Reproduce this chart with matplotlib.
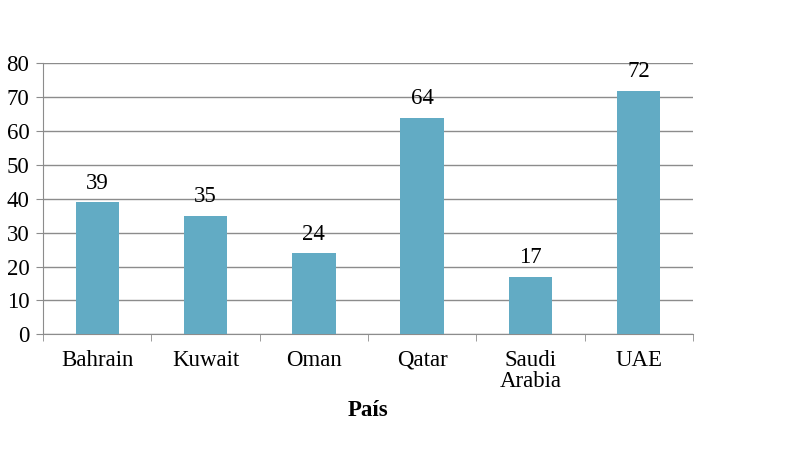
import matplotlib.pyplot as plt
import numpy as np

paises = ["Bahrain", "Kuwait", "Oman", "Qatar", "Saudi\nArabia", "UAE"]
valores = [39, 35, 24, 64, 17, 72]

plt.rcParams["font.family"] = ["Liberation Serif", "DejaVu Serif"]

fig = plt.figure(figsize=(8, 4.5), dpi=100)
ax = fig.add_axes([0.054, 0.257, 0.812, 0.602])

x = np.arange(len(paises))
ax.bar(x, valores, width=0.4, color="#62abc4", zorder=3)
for xi, v in zip(x, valores):
    ax.text(xi, v + 2.5, str(v), ha="center", va="bottom", fontsize=16.5, zorder=4)

ax.set_xlim(-0.5, len(paises) - 0.5)
ax.set_ylim(0, 80)
ax.set_yticks(range(0, 81, 10))
ax.yaxis.grid(True, color="#8c8c8c", linewidth=1, zorder=0)

ax.set_xticks(x)
ax.set_xticklabels(paises, fontsize=16.5, linespacing=1.0)
ax.set_xticks(np.arange(-0.5, len(paises), 1), minor=True)
ax.tick_params(axis="x", which="major", length=0, pad=11)
ax.tick_params(axis="x", which="minor", length=5, color="#8c8c8c")
ax.tick_params(axis="y", labelsize=16.5, length=5, color="#8c8c8c", pad=5)

for s in ["top", "right"]:
    ax.spines[s].set_visible(False)
for s in ["left", "bottom"]:
    ax.spines[s].set_color("#8c8c8c")

ax.set_xlabel("País", fontsize=16.5, fontweight="bold", labelpad=6)

fig.savefig("out.png", dpi=100)
